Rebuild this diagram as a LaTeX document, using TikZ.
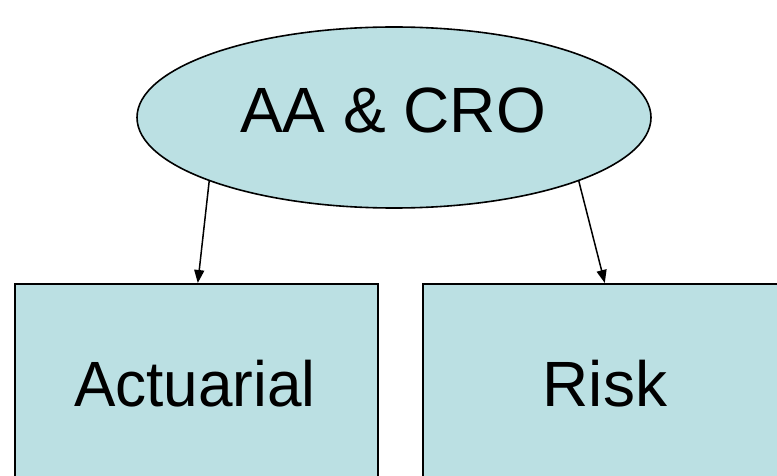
\documentclass[tikz,border=0pt]{standalone}
\usepackage{fontspec}
\setmainfont{Liberation Sans}
\usetikzlibrary{shapes.geometric,arrows.meta}
\definecolor{boxfill}{RGB}{187,224,227}
\tikzset{
  shapebox/.style={draw=black, line width=1.6pt, fill=boxfill, inner sep=0pt, font=\fontsize{64}{70}\selectfont},
  conn/.style={line width=1.5pt, -{Triangle[length=13pt,width=10pt]}}
}
\begin{document}
\begin{tikzpicture}[x=1pt,y=-1pt]
\useasboundingbox (0,0) rectangle (777,476);
\clip (0,0) rectangle (777,476);
\node[shapebox, ellipse, minimum width=514pt, minimum height=181pt] (top) at (394,117.5) {};
\node[font=\fontsize{64}{70}\selectfont, inner sep=0pt, anchor=base] (toplabel) at (393,133) {AA \& CRO};
\node[shapebox, rectangle, minimum width=363pt, minimum height=220pt, anchor=north west] (act) at (14,283) {};
\node[font=\fontsize{64}{70}\selectfont, inner sep=0pt, anchor=base, xscale=0.97] (actlabel) at (195,406) {Actuarial};
\node[shapebox, rectangle, minimum width=380pt, minimum height=220pt, anchor=north west] (risk) at (422,283) {};
\node[font=\fontsize{64}{70}\selectfont, inner sep=0pt, anchor=base] (risklabel) at (605,406) {Risk};
\draw[conn] (top.199) -- ([xshift=1.5pt]act.north);
\draw[conn] (top.341) -- ([xshift=-8pt]risk.north);
\end{tikzpicture}
\end{document}
